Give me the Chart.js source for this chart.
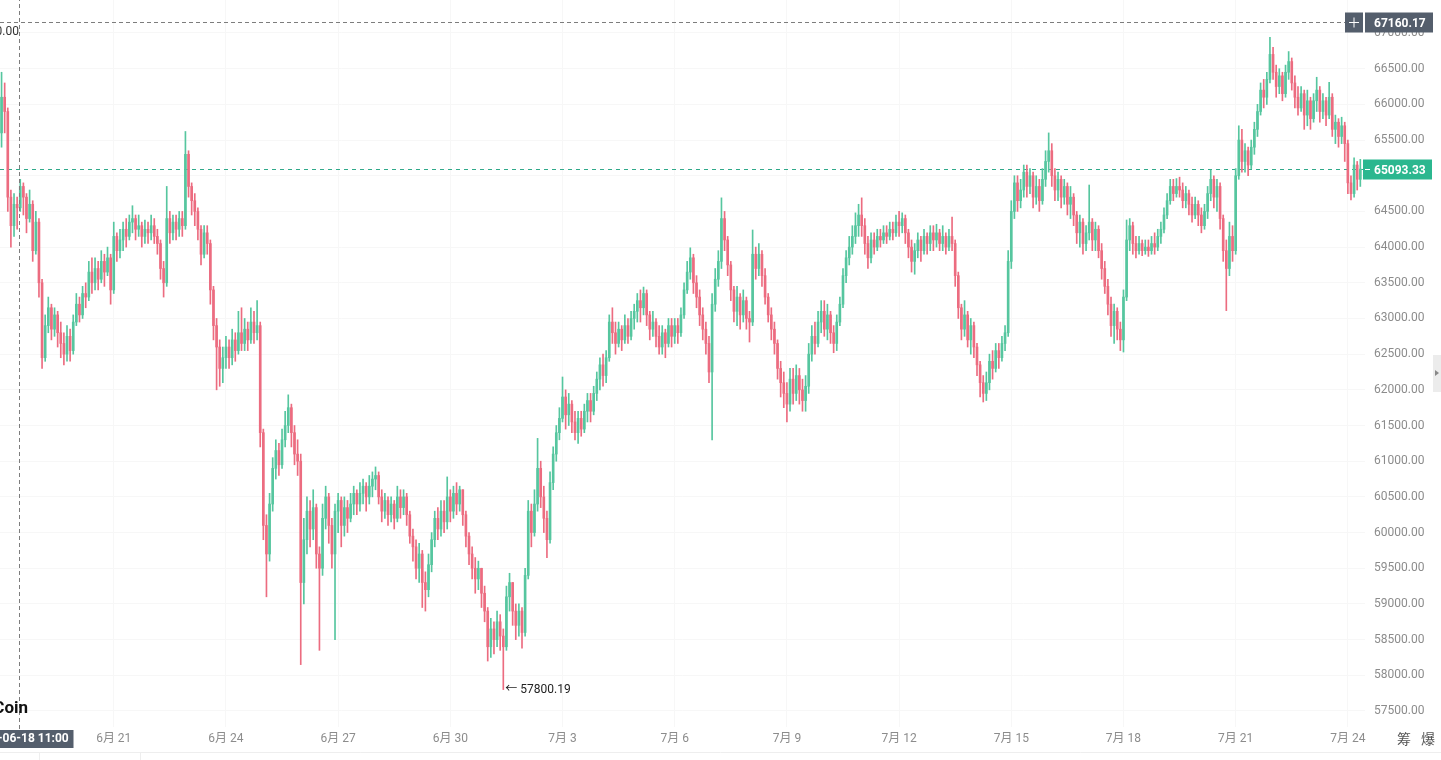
<!DOCTYPE html>
<html>
<head>
<meta charset="utf-8">
<script src="https://cdn.jsdelivr.net/npm/chart.js@4.4.1/dist/chart.umd.min.js"></script>
<style>
  html, body { margin: 0; padding: 0; background: #fff; overflow: hidden; }
  body { width: 1441px; height: 760px; position: relative; }
  #chart { position: absolute; left: 0; top: -10px; }
</style>
</head>
<body>
<canvas id="chart" width="1441" height="770"></canvas>
<script>
// 2h candles from 2024-06-18 00:00, open of each candle = previous close
const startTime = Date.UTC(2024, 5, 18, 0, 0);
const stepMs = 2 * 3600 * 1000;
const firstOpen = 65600;

const closes = [
  66100,65900,64700,64300,64600,64550,64850,64700,64400,64600,63950,64350,
  63500,62450,62900,63150,62850,63050,62800,62650,62500,62750,62550,62950,
  63200,63050,63350,63300,63650,63500,63700,63550,63800,63650,63850,63400,
  64150,63950,64100,64250,64150,64350,64400,64250,64300,64150,64250,64200,
  64300,64150,64050,63700,63500,64400,64200,64350,64250,64400,64300,65300,
  64850,64650,64500,64250,63900,64200,64050,63400,62900,62600,62300,62450,
  62600,62450,62700,62550,62800,62650,62850,62700,62950,62800,62900,61400,
  60100,59700,60400,60900,61150,60950,61300,61500,61750,61400,61100,61000,
  59300,59900,60300,60050,60350,59700,59500,60200,60500,60100,59700,60300,
  60450,60100,60350,60200,60400,60550,60400,60550,60650,60500,60650,60750,
  60800,60500,60300,60450,60250,60400,60200,60500,60350,60500,60250,59950,
  59800,59500,59700,59300,59200,59550,59900,60200,60050,60300,60150,60500,
  60300,60550,60400,60600,60250,59950,59700,59500,59350,59500,59150,58900,
  58400,58650,58500,58750,58550,58400,59100,59300,58900,58700,58900,58600,
  59400,60300,60000,60400,60900,60500,60200,59900,60700,61100,61400,61600,
  61900,61650,61800,61550,61400,61600,61450,61700,61850,61700,61950,62150,
  62350,62200,62450,62950,62800,62650,62850,62700,62900,62750,63000,63100,
  63250,63150,63350,63050,62850,62950,62750,62600,62800,62650,62900,62750,
  62900,62800,63050,63400,63650,63850,63500,63300,63050,62850,62650,62250,
  63200,63550,63800,64400,64100,63750,63400,63100,63300,63050,63250,63000,
  62950,63900,63700,63900,63600,63300,63050,62850,62650,62300,62100,61950,
  61800,62150,61950,62200,62000,61850,62050,62500,62750,62650,62950,63100,
  62850,63050,62800,62650,62950,63200,63600,63850,64000,64150,64300,64450,
  64300,64050,63850,64100,64000,64150,64100,64200,64150,64250,64200,64350,
  64300,64400,64200,64000,63800,63950,64100,63950,64150,64050,64200,64100,
  64200,64050,64150,64000,64150,64050,63600,63150,62850,63050,62700,62900,
  62600,62350,62100,61950,62100,62400,62300,62550,62450,62650,62800,63800,
  64500,64900,64650,64800,65050,64850,65000,64700,64850,64650,64950,65200,
  65350,65000,64800,64950,64700,64850,64600,64700,64450,64200,64350,64050,
  64200,64350,64100,64250,63950,63700,63450,63200,62900,63100,62850,62700,
  63300,64100,64300,64050,63950,64050,63950,64000,63950,64050,64000,64150,
  64250,64450,64650,64850,64750,64850,64800,64650,64750,64600,64450,64600,
  64450,64300,64500,64750,64950,64700,64850,64400,63950,63700,64150,63950,
  65000,65500,65200,65350,65150,65400,65650,65900,66200,66100,66350,66700,
  66450,66250,66400,66150,66450,66600,66300,66100,65950,66150,65850,66050,
  65800,66050,66200,65900,66050,65850,66100,65650,65750,65550,65700,65450,
  64900,64750,65150,64950,65093.33
];

const highs = [
  66450,66300,65950,64800,64750,64700,64950,64900,64750,64800,64650,64500,
  64400,63550,63050,63300,63200,63150,63100,62950,62800,62900,62850,63050,
  63350,63300,63450,63500,63800,63850,63850,63800,63950,63900,64000,63900,
  64350,64200,64250,64350,64400,64450,64580,64450,64450,64350,64380,64350,
  64450,64400,64250,64100,63800,64850,64500,64450,64450,64500,64500,65620,
  65350,64900,64750,64550,64300,64300,64300,64100,63450,63000,62700,62600,
  62750,62700,62850,62800,63100,63150,63000,62950,63150,63100,63250,62950,
  61450,60250,60550,61050,61300,61250,61450,61700,61930,61800,61500,61300,
  61100,60200,60500,60450,60600,60400,59800,60400,60650,60550,60200,60400,
  60550,60500,60500,60450,60550,60650,60600,60700,60750,60700,60800,60850,
  60920,60850,60600,60550,60500,60500,60450,60650,60600,60600,60550,60300,
  60050,59900,59850,59750,59450,59700,60000,60300,60350,60450,60450,60780,
  60600,60650,60700,60650,60600,60300,60000,59800,59650,59600,59500,59250,
  58950,58800,58750,58900,58850,58650,59250,59430,59300,59000,59000,58950,
  59500,60450,60400,60600,61320,61000,60650,60300,60850,61200,61500,61750,
  62180,62000,61950,61850,61700,61700,61700,61800,61950,61950,62050,62250,
  62450,62500,62550,63050,63150,62950,62950,62900,63050,63000,63100,63200,
  63350,63400,63440,63400,63100,63100,63000,62900,62900,62850,63000,63000,
  63000,63000,63150,63500,63800,63990,63900,63600,63400,63150,62950,62750,
  63350,63700,63950,64690,64500,64150,63800,63450,63450,63350,63400,63300,
  63100,64240,64000,64050,63950,63700,63350,63150,62950,62700,62400,62250,
  62100,62300,62300,62350,62300,62150,62200,62650,62900,62950,63100,63250,
  63250,63200,63100,62900,63050,63300,63700,63950,64150,64300,64480,64600,
  64690,64400,64150,64200,64200,64250,64250,64300,64300,64350,64350,64450,
  64500,64480,64450,64250,64100,64050,64200,64150,64250,64200,64300,64300,
  64320,64250,64300,64200,64250,64420,64100,63650,63200,63250,63100,63000,
  62950,62650,62400,62200,62250,62500,62550,62650,62650,62750,62900,63950,
  64650,65000,65000,64950,65150,65150,65100,65050,65000,64950,65100,65350,
  65600,65450,65100,65050,65000,64950,64900,64850,64750,64500,64450,64400,
  64300,64870,64400,64350,64300,64050,63800,63550,63300,63200,63150,62950,
  63400,64380,64400,64350,64150,64150,64100,64100,64100,64150,64200,64250,
  64350,64550,64750,64950,64950,64960,64980,64900,64850,64800,64700,64700,
  64650,64550,64600,64850,65080,65000,64950,64900,64450,64100,64350,64300,
  65100,65700,65650,65450,65400,65500,65750,66000,66300,66350,66450,66940,
  66800,66550,66500,66450,66550,66740,66650,66400,66250,66250,66200,66200,
  66100,66150,66380,66250,66150,66100,66310,66150,65850,65800,65820,65750,
  65500,65000,65250,65200,65230
];

const lows = [
  65400,65600,64500,64000,64150,64250,64500,64450,64200,64350,63800,63900,
  63300,62300,62400,62800,62700,62750,62600,62450,62350,62400,62400,62500,
  62900,62950,63000,63150,63250,63350,63400,63400,63500,63450,63600,63200,
  63350,63800,63850,63950,64000,64100,64200,64100,64150,64000,64050,64050,
  64100,64050,63900,63550,63300,63450,64050,64100,64100,64150,64150,64250,
  64700,64450,64300,64100,63750,63850,63900,63200,62700,62000,62050,62100,
  62300,62300,62350,62400,62500,62550,62550,62550,62650,62650,62700,61200,
  59900,59100,59600,60300,60750,60800,60900,61200,61400,61200,60950,60800,
  58150,59000,59700,59800,59900,59500,58350,59400,60050,59850,59500,58500,
  60000,59800,59950,60000,60150,60250,60250,60300,60400,60300,60400,60500,
  60600,60400,60150,60200,60100,60150,60050,60150,60200,60250,60100,59850,
  59600,59350,59300,58950,58900,59100,59450,59800,59900,59950,60000,60050,
  60150,60200,60250,60300,60100,59800,59550,59350,59150,59200,58950,58750,
  58200,58250,58300,58400,58350,57800.19,58350,58900,58700,58500,58550,58380,
  58550,59350,59800,59950,60300,60350,60000,59650,59850,60600,61000,61300,
  61550,61450,61500,61400,61300,61250,61350,61400,61550,61550,61650,61850,
  62000,62050,62100,62400,62650,62500,62600,62550,62650,62650,62700,62850,
  62950,62950,63050,62900,62700,62750,62600,62500,62500,62450,62600,62600,
  62650,62650,62750,63000,63350,63550,63350,63150,62900,62700,62500,62100,
  61300,63100,63450,63700,63950,63600,63250,62950,62900,62850,62950,62850,
  62670,62900,63550,63600,63450,63200,62950,62700,62500,62150,61900,61750,
  61550,61700,61800,61850,61800,61700,61700,61950,62400,62500,62600,62800,
  62750,62700,62650,62520,62550,62900,63150,63500,63750,63900,64050,64150,
  64150,63900,63700,63780,63900,63950,64000,64050,64050,64100,64100,64150,
  64150,64200,64050,63850,63650,63620,63850,63800,63900,63900,63950,63950,
  64000,63950,63950,63900,63950,63950,63450,63000,62700,62750,62600,62500,
  62450,62200,61900,61830,61850,62000,62150,62250,62300,62400,62550,62750,
  63700,64400,64500,64550,64700,64700,64750,64550,64600,64500,64600,64850,
  65050,64850,64650,64650,64550,64600,64450,64400,64300,64050,64000,63900,
  63950,64100,63950,63950,63850,63550,63350,63050,62750,62650,62700,62550,
  62530,63250,63950,63900,63850,63900,63880,63900,63870,63900,63900,63950,
  64050,64200,64400,64600,64650,64700,64700,64550,64550,64450,64350,64400,
  64300,64200,64250,64400,64650,64550,64500,64250,63800,63110,63600,63800,
  63900,64950,65050,65050,65000,65100,65300,65550,65850,65950,66000,66300,
  66350,66100,66150,66050,66100,66350,66200,65950,65850,65900,65650,65700,
  65650,65750,65900,65750,65800,65700,65800,65550,65450,65400,65450,65200,
  64750,64660,64700,64800,64850
];

const priceTicks = [57500, 58000, 58500, 59000, 59500, 60000, 60500, 61000, 61500, 62000,
  62500, 63000, 63500, 64000, 64500, 65000, 65500, 66000, 66500, 67000, 67500];
const dayTickTimes = ['2024-06-21 00:00', '2024-06-24 00:00', '2024-06-27 00:00', '2024-06-30 00:00',
  '2024-07-03 00:00', '2024-07-06 00:00', '2024-07-09 00:00', '2024-07-12 00:00',
  '2024-07-15 00:00', '2024-07-18 00:00', '2024-07-21 00:00', '2024-07-24 00:00'];
const dayTickLabels = ['6月 21', '6月 24', '6月 27', '6月 30', '7月 3', '7月 6',
  '7月 9', '7月 12', '7月 15', '7月 18', '7月 21', '7月 24'];

const lastPrice = 65093.33;
const crossTime = '2024-06-18 11:00';
const crossPrice = 67160.17;

const UP = '#56c69f';
const DOWN = '#ec6c80';
const FONT = "Roboto, 'Noto Sans CJK SC', sans-serif";
const OY = 10; // canvas sits 10px above the page top

const pad = n => String(n).padStart(2, '0');
const fmtTime = t => {
  const d = new Date(t);
  return d.getUTCFullYear() + '-' + pad(d.getUTCMonth() + 1) + '-' + pad(d.getUTCDate()) +
    ' ' + pad(d.getUTCHours()) + ':' + pad(d.getUTCMinutes());
};

const N = closes.length;
const labels = [];
for (let i = 0; i <= N; i++) labels.push(fmtTime(startTime + i * stepMs));
const xTickIdx = dayTickTimes.map(t => labels.indexOf(t));
const crossIdx = (Date.parse(crossTime.replace(' ', 'T') + ':00Z') - startTime) / stepMs;

const opens = closes.map((c, i) => i === 0 ? firstOpen : closes[i - 1]);
const colors = closes.map((c, i) => c >= opens[i] ? UP : DOWN);
const wickData = closes.map((c, i) => [Math.min(lows[i], opens[i], c), Math.max(highs[i], opens[i], c)]);
const bodyData = closes.map((c, i) => [opens[i], c]);

function box(ctx, x, y, w, h, fill) {
  ctx.fillStyle = fill;
  ctx.fillRect(x, y, w, h);
}

const overlay = {
  id: 'overlay',
  beforeDatasetsDraw(chart) {
    const { ctx, chartArea, scales: { y } } = chart;
    const py = Math.round(y.getPixelForValue(lastPrice)) + 0.5;
    ctx.save();
    ctx.strokeStyle = '#2fa98a';
    ctx.lineWidth = 1;
    ctx.setLineDash([4, 4]);
    ctx.beginPath();
    ctx.moveTo(chartArea.left, py);
    ctx.lineTo(chartArea.right, py);
    ctx.stroke();
    ctx.restore();
  },
  afterDraw(chart) {
    const { ctx, scales: { x, y } } = chart;
    ctx.save();

    // crosshair
    const cx = Math.round(x.getPixelForValue(crossIdx)) + 0.5;
    const cy = Math.round(y.getPixelForValue(crossPrice)) + 0.5;
    ctx.strokeStyle = '#7d7d7d';
    ctx.lineWidth = 1;
    ctx.setLineDash([4, 3]);
    ctx.beginPath();
    ctx.moveTo(cx, 0);
    ctx.lineTo(cx, 730 + OY);
    ctx.moveTo(0, cy);
    ctx.lineTo(1345, cy);
    ctx.stroke();
    ctx.setLineDash([]);

    // crosshair price label
    box(ctx, 1345, cy - 10, 18, 20, '#545e6c');
    box(ctx, 1365, cy - 10, 68, 20, '#545e6c');
    ctx.strokeStyle = '#ffffff';
    ctx.beginPath();
    ctx.moveTo(1349, cy); ctx.lineTo(1359, cy);
    ctx.moveTo(1354, cy - 5); ctx.lineTo(1354, cy + 5);
    ctx.stroke();
    ctx.fillStyle = '#ffffff';
    ctx.font = 'bold 12px ' + FONT;
    ctx.textBaseline = 'middle';
    ctx.textAlign = 'left';
    ctx.fillText(crossPrice.toFixed(2), 1374, cy + 1);

    // last price label
    const py = Math.round(y.getPixelForValue(lastPrice)) + 0.5;
    box(ctx, 1363, py - 10, 69, 20, '#2bb78f');
    ctx.strokeStyle = '#ffffff';
    ctx.beginPath();
    ctx.moveTo(1365, py); ctx.lineTo(1370, py);
    ctx.stroke();
    ctx.fillStyle = '#ffffff';
    ctx.fillText(lastPrice.toFixed(2), 1374, py + 1);

    // crosshair time label
    box(ctx, cx - 54, 730 + OY, 108, 18, '#545e6c');
    ctx.fillStyle = '#ffffff';
    ctx.textAlign = 'center';
    ctx.fillText(crossTime, cx, 739 + OY);

    // lowest low marker
    let li = 0;
    lows.forEach((v, i) => { if (v < lows[li]) li = i; });
    const lx = x.getPixelForValue(li) + 2;
    const ly = y.getPixelForValue(lows[li]);
    ctx.fillStyle = '#222222';
    ctx.font = '12px ' + FONT;
    ctx.textAlign = 'left';
    ctx.fillText('← ' + lows[li].toFixed(2), lx, ly);

    // cut-off left texts
    ctx.fillStyle = '#333333';
    ctx.textAlign = 'right';
    ctx.fillText('67100.00', 19, 32 + OY);
    ctx.fillStyle = '#111111';
    ctx.font = 'bold 17px ' + FONT;
    ctx.fillText('Coin', 28, 709 + OY);

    // bottom right glyphs
    ctx.fillStyle = '#555555';
    ctx.font = '14px ' + FONT;
    ctx.textAlign = 'center';
    ctx.fillText('筹', 1404, 740 + OY);
    ctx.fillText('爆', 1428, 740 + OY);

    // right side tab
    box(ctx, 1433, 355 + OY, 8, 37, '#ececec');
    ctx.fillStyle = '#888888';
    ctx.beginPath();
    ctx.moveTo(1435, 370 + OY); ctx.lineTo(1439, 373 + OY); ctx.lineTo(1435, 376 + OY);
    ctx.fill();

    // bottom panel edge
    ctx.strokeStyle = '#eeeeee';
    ctx.beginPath();
    ctx.moveTo(0, 752.5 + OY); ctx.lineTo(1441, 752.5 + OY);
    ctx.moveTo(39.5, 752 + OY); ctx.lineTo(39.5, 770);
    ctx.moveTo(140.5, 752 + OY); ctx.lineTo(140.5, 770);
    ctx.stroke();

    ctx.restore();
  }
};

new Chart(document.getElementById('chart'), {
  type: 'bar',
  data: {
    labels: labels,
    datasets: [
      {
        data: wickData,
        backgroundColor: colors,
        borderWidth: 0,
        barThickness: 1,
        grouped: false,
        order: 2
      },
      {
        data: bodyData,
        backgroundColor: colors,
        borderWidth: 0,
        barThickness: 2,
        minBarLength: 1,
        grouped: false,
        order: 1
      }
    ]
  },
  options: {
    responsive: false,
    animation: false,
    events: [],
    layout: { padding: 0 },
    plugins: {
      legend: { display: false },
      tooltip: { enabled: false }
    },
    scales: {
      x: {
        type: 'category',
        offset: true,
        grid: { color: '#f7f7f7', drawTicks: false, offset: false },
        border: { display: false },
        ticks: {
          autoSkip: false,
          maxRotation: 0,
          padding: 5,
          color: '#8c8c8c',
          font: { size: 12, family: FONT },
          callback: v => {
            const k = xTickIdx.indexOf(v);
            return k < 0 ? '' : dayTickLabels[k];
          }
        },
        afterBuildTicks: a => { a.ticks = xTickIdx.map(v => ({ value: v })); },
        afterFit: a => { a.height = 33; a.paddingLeft = 0; a.paddingRight = 0; }
      },
      y: {
        position: 'right',
        min: 57275.8,
        max: 67602.5,
        grid: { color: '#f7f7f7', drawTicks: false },
        border: { display: false },
        ticks: {
          padding: 9,
          color: '#8c8c8c',
          font: { size: 12, family: FONT },
          callback: v => Number(v).toFixed(2)
        },
        afterBuildTicks: a => { a.ticks = priceTicks.map(v => ({ value: v })); },
        afterFit: a => { a.width = 76; a.paddingTop = 0; a.paddingBottom = 0; }
      }
    }
  },
  plugins: [overlay]
});
</script>
</body>
</html>
